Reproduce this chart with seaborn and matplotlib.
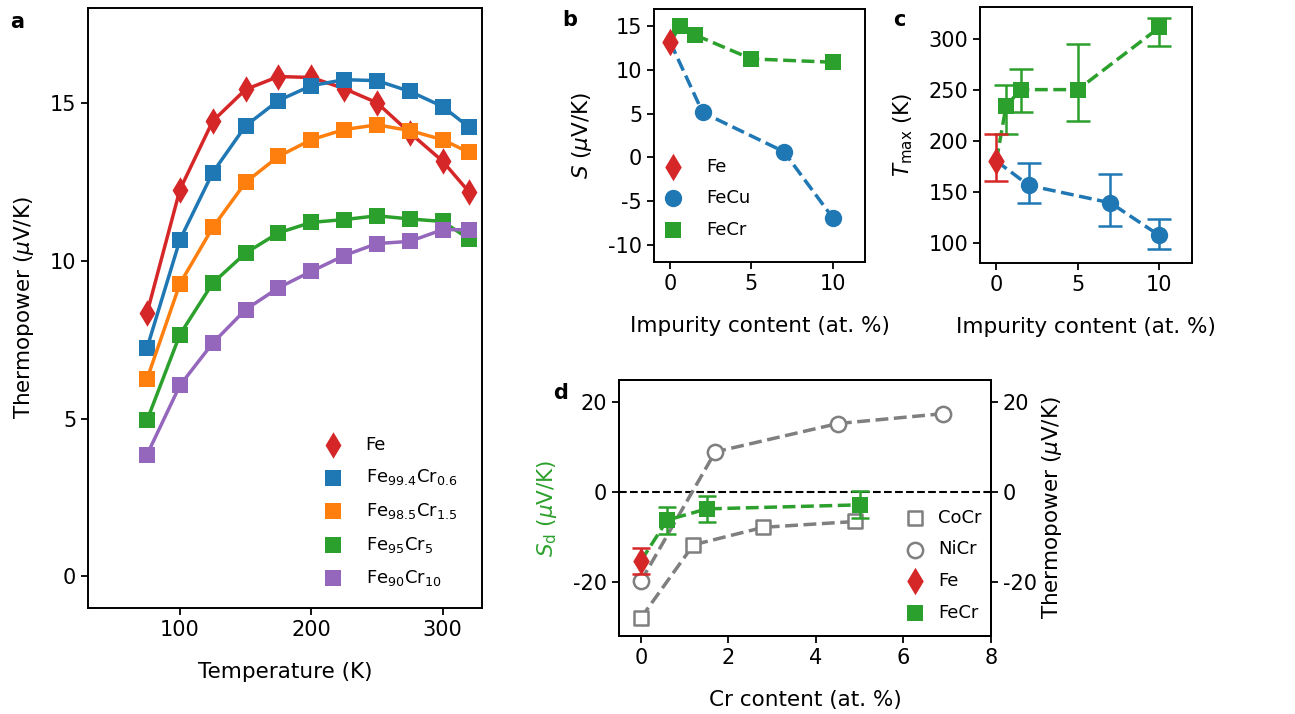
import matplotlib
matplotlib.use("Agg")
import matplotlib.pyplot as plt
import seaborn as sns

# ---------------- data ----------------
# panel a
temperature = [75, 100, 125, 150, 175, 200, 225, 250, 275, 300, 320]
s_fe = [8.35, 12.25, 14.42, 15.42, 15.83, 15.8, 15.45, 15.0, 14.05, 13.15, 12.18]
s_cr06 = [7.24, 10.66, 12.79, 14.27, 15.07, 15.54, 15.73, 15.7, 15.36, 14.88, 14.23]
s_cr15 = [6.26, 9.27, 11.05, 12.48, 13.3, 13.83, 14.15, 14.3, 14.12, 13.83, 13.43]
s_cr5 = [4.95, 7.66, 9.29, 10.24, 10.88, 11.21, 11.3, 11.42, 11.32, 11.24, 10.69]
s_cr10 = [3.86, 6.05, 7.39, 8.45, 9.14, 9.66, 10.16, 10.54, 10.61, 10.98, 10.98]
labels_a = ["Fe", "Fe$_{99.4}$Cr$_{0.6}$", "Fe$_{98.5}$Cr$_{1.5}$",
            "Fe$_{95}$Cr$_{5}$", "Fe$_{90}$Cr$_{10}$"]

# panel b
fe_x = [0]
fe_s = [13.2]
fecu_x = [2, 7, 10]
fecu_s = [5.14, 0.65, -6.9]
fecr_x = [0.6, 1.5, 5, 10]
fecr_s = [15.0, 14.05, 11.28, 10.9]

# panel c
fe_tmax = [180]
fe_tmax_lo = [19.5]
fe_tmax_hi = [26.5]
fecu_tmax = [156, 139, 107]
fecu_tmax_lo = [17, 23, 13]
fecu_tmax_hi = [22, 28, 16]
fecr_tmax = [234, 250, 250, 311]
fecr_tmax_lo = [28, 22, 31, 18]
fecr_tmax_hi = [21, 20, 45, 9]

# panel d
fe_sd = [-15.3]
fe_sd_err = [3.0]
fecr_d_x = [0.6, 1.5, 5]
fecr_sd = [-6.2, -3.7, -2.8]
fecr_sd_err = [3.0, 2.9, 3.0]
cocr_x = [0, 1.2, 2.8, 4.9]
cocr_s = [-28.0, -11.7, -7.8, -6.5]
nicr_x = [0, 1.7, 4.5, 6.9]
nicr_s = [-19.8, 9.0, 15.3, 17.5]

RED, BLUE, ORANGE, GREEN, PURPLE, GRAY = ("#d62728", "#1f77b4", "#ff7f0e",
                                          "#2ca02c", "#9467bd", "#7f7f7f")

# ---------------- style ----------------
sns.set_style("ticks")
plt.rcParams["font.family"] = ["DejaVu Sans"]
plt.rcParams.update({
    "font.size": 14,
    "axes.labelsize": 15.5,
    "xtick.labelsize": 15,
    "ytick.labelsize": 15,
    "legend.fontsize": 13,
    "axes.linewidth": 1.4,
    "axes.edgecolor": "black",
    "axes.labelcolor": "black",
    "text.color": "black",
    "xtick.color": "black",
    "ytick.color": "black",
    "xtick.major.width": 1.3,
    "ytick.major.width": 1.3,
    "xtick.major.size": 5,
    "ytick.major.size": 5,
    "axes.unicode_minus": False,
    "mathtext.fontset": "dejavusans",
})

fig = plt.figure(figsize=(12.95, 7.14), dpi=100)
W, H = 1295.0, 714.0


def add_ax(l, t, r, b):
    return fig.add_axes([l / W, 1 - b / H, (r - l) / W, (b - t) / H])


ax_a = add_ax(88, 8, 482, 608)
ax_b = add_ax(654, 9, 865, 262)
ax_c = add_ax(980, 7, 1192, 263)
ax_d = add_ax(619, 380, 991, 636)

XPAD, YPAD = 16, 10


def line(ax, x, y, color, ls="-", lw=2.5, z=2):
    sns.lineplot(x=x, y=y, ax=ax, color=color, lw=lw, linestyle=ls,
                 sort=False, estimator=None, zorder=z)


def marks(ax, x, y, color, marker, ms, label=None, z=3, edge=None, elw=0):
    sns.scatterplot(x=x, y=y, ax=ax, color=color, marker=marker, s=ms ** 2,
                    edgecolor=edge if edge is not None else color,
                    linewidth=elw, label=label, zorder=z)


# ---------------- panel a ----------------
series_a = [(s_fe, RED, "d", 13.5), (s_cr06, BLUE, "s", 11.5),
            (s_cr15, ORANGE, "s", 11.5), (s_cr5, GREEN, "s", 11.5),
            (s_cr10, PURPLE, "s", 11.5)]
for i, ((vals, col, mk, ms), lab) in enumerate(zip(series_a, labels_a)):
    line(ax_a, temperature, vals, col, "-", 2.5, z=2 + 2 * i)
    marks(ax_a, temperature, vals, col, mk, ms, label=lab, z=3 + 2 * i)
ax_a.set_xlim(30, 330)
ax_a.set_ylim(-1, 18)
ax_a.set_xticks([100, 200, 300])
ax_a.set_yticks([0, 5, 10, 15])
ax_a.set_xlabel("Temperature (K)", labelpad=XPAD)
ax_a.set_ylabel("Thermopower ($\\mu$V/K)", labelpad=YPAD)
ax_a.legend(loc="lower right", frameon=False, labelspacing=0.75,
            handletextpad=0.8, borderaxespad=1.2,
            bbox_to_anchor=(1.01, -0.015))

# ---------------- panel b ----------------
line(ax_b, fe_x + fecr_x, fe_s + fecr_s, GREEN, "--", 2.5, z=2)
line(ax_b, fe_x + fecu_x, fe_s + fecu_s, BLUE, "--", 2.5, z=2)
marks(ax_b, fe_x, fe_s, RED, "d", 14, label="Fe", z=5)
marks(ax_b, fecu_x, fecu_s, BLUE, "o", 12.5, label="FeCu", z=4)
marks(ax_b, fecr_x, fecr_s, GREEN, "s", 11.5, label="FeCr", z=4)
ax_b.set_xlim(-1, 12)
ax_b.set_ylim(-12, 17)
ax_b.set_xticks([0, 5, 10])
ax_b.set_yticks([-10, -5, 0, 5, 10, 15])
ax_b.set_xlabel("Impurity content (at. %)", labelpad=XPAD)
ax_b.set_ylabel("$S$ ($\\mu$V/K)", labelpad=YPAD)
ax_b.legend(loc="lower left", frameon=False, labelspacing=0.75,
            handletextpad=0.8, borderaxespad=0.5,
            bbox_to_anchor=(-0.071, 0.028))

# ---------------- panel c ----------------
line(ax_c, fe_x + fecr_x, fe_tmax + fecr_tmax, GREEN, "--", 2.5, z=2)
line(ax_c, fe_x + fecu_x, fe_tmax + fecu_tmax, BLUE, "--", 2.5, z=2)
ax_c.errorbar(fecr_x, fecr_tmax, yerr=[fecr_tmax_lo, fecr_tmax_hi], fmt="none",
              ecolor=GREEN, elinewidth=1.8, capsize=8.5, capthick=1.8, zorder=3)
ax_c.errorbar(fecu_x, fecu_tmax, yerr=[fecu_tmax_lo, fecu_tmax_hi], fmt="none",
              ecolor=BLUE, elinewidth=1.8, capsize=8.5, capthick=1.8, zorder=3)
ax_c.errorbar(fe_x, fe_tmax, yerr=[fe_tmax_lo, fe_tmax_hi], fmt="none",
              ecolor=RED, elinewidth=1.8, capsize=8.5, capthick=1.8, zorder=3)
marks(ax_c, fe_x, fe_tmax, RED, "d", 14, z=5)
marks(ax_c, fecu_x, fecu_tmax, BLUE, "o", 12.5, z=4)
marks(ax_c, fecr_x, fecr_tmax, GREEN, "s", 11.5, z=4)
ax_c.set_xlim(-1, 12)
ax_c.set_ylim(80, 331)
ax_c.set_xticks([0, 5, 10])
ax_c.set_yticks([100, 150, 200, 250, 300])
ax_c.set_xlabel("Impurity content (at. %)", labelpad=XPAD)
ax_c.set_ylabel("$T_{\\mathrm{max}}$ (K)", labelpad=YPAD)

# ---------------- panel d ----------------
ax_d.axhline(0, color="black", ls="--", lw=1.5, zorder=1)
line(ax_d, cocr_x, cocr_s, GRAY, "--", 2.5, z=2)
line(ax_d, nicr_x, nicr_s, GRAY, "--", 2.5, z=2)
marks(ax_d, cocr_x, cocr_s, "white", "s", 10.5, label="CoCr", z=3,
      edge=GRAY, elw=1.8)
marks(ax_d, nicr_x, nicr_s, "white", "o", 11, label="NiCr", z=3,
      edge=GRAY, elw=1.8)
line(ax_d, fe_x + fecr_d_x, fe_sd + fecr_sd, GREEN, "--", 2.5, z=4)
ax_d.errorbar(fe_x, fe_sd, yerr=fe_sd_err, fmt="none", ecolor=RED,
              elinewidth=1.8, capsize=6.5, capthick=1.8, zorder=5)
ax_d.errorbar(fecr_d_x, fecr_sd, yerr=fecr_sd_err, fmt="none", ecolor=GREEN,
              elinewidth=1.8, capsize=6.5, capthick=1.8, zorder=5)
marks(ax_d, fe_x, fe_sd, RED, "d", 14, label="Fe", z=6)
marks(ax_d, fecr_d_x, fecr_sd, GREEN, "s", 11.5, label="FeCr", z=6)
ax_d.set_xlim(-0.5, 8)
ax_d.set_ylim(-32, 25)
ax_d.set_xticks([0, 2, 4, 6, 8])
ax_d.set_yticks([-20, 0, 20])
ax_d.set_xlabel("Cr content (at. %)", labelpad=XPAD)
ax_d.set_ylabel("$S_{\\mathrm{d}}$ ($\\mu$V/K)", color=GREEN, labelpad=YPAD)
ax_d.legend(loc="lower right", frameon=False, labelspacing=0.75,
            handletextpad=0.27, borderaxespad=0.4,
            bbox_to_anchor=(1.013, 0.0))
ax_d2 = ax_d.twinx()
ax_d2.set_ylim(-32, 25)
ax_d2.set_yticks([-20, 0, 20])
ax_d2.set_ylabel("Thermopower ($\\mu$V/K)", labelpad=2)
for sp in ax_d2.spines.values():
    sp.set_linewidth(1.4)

# panel letters
for txt, x, y in [("a", 17, 22), ("b", 570, 20), ("c", 899, 20), ("d", 561, 393)]:
    fig.text(x / W, 1 - y / H, txt, fontsize=15, fontweight="bold",
             ha="center", va="center")

fig.savefig("out.png", dpi=100)
